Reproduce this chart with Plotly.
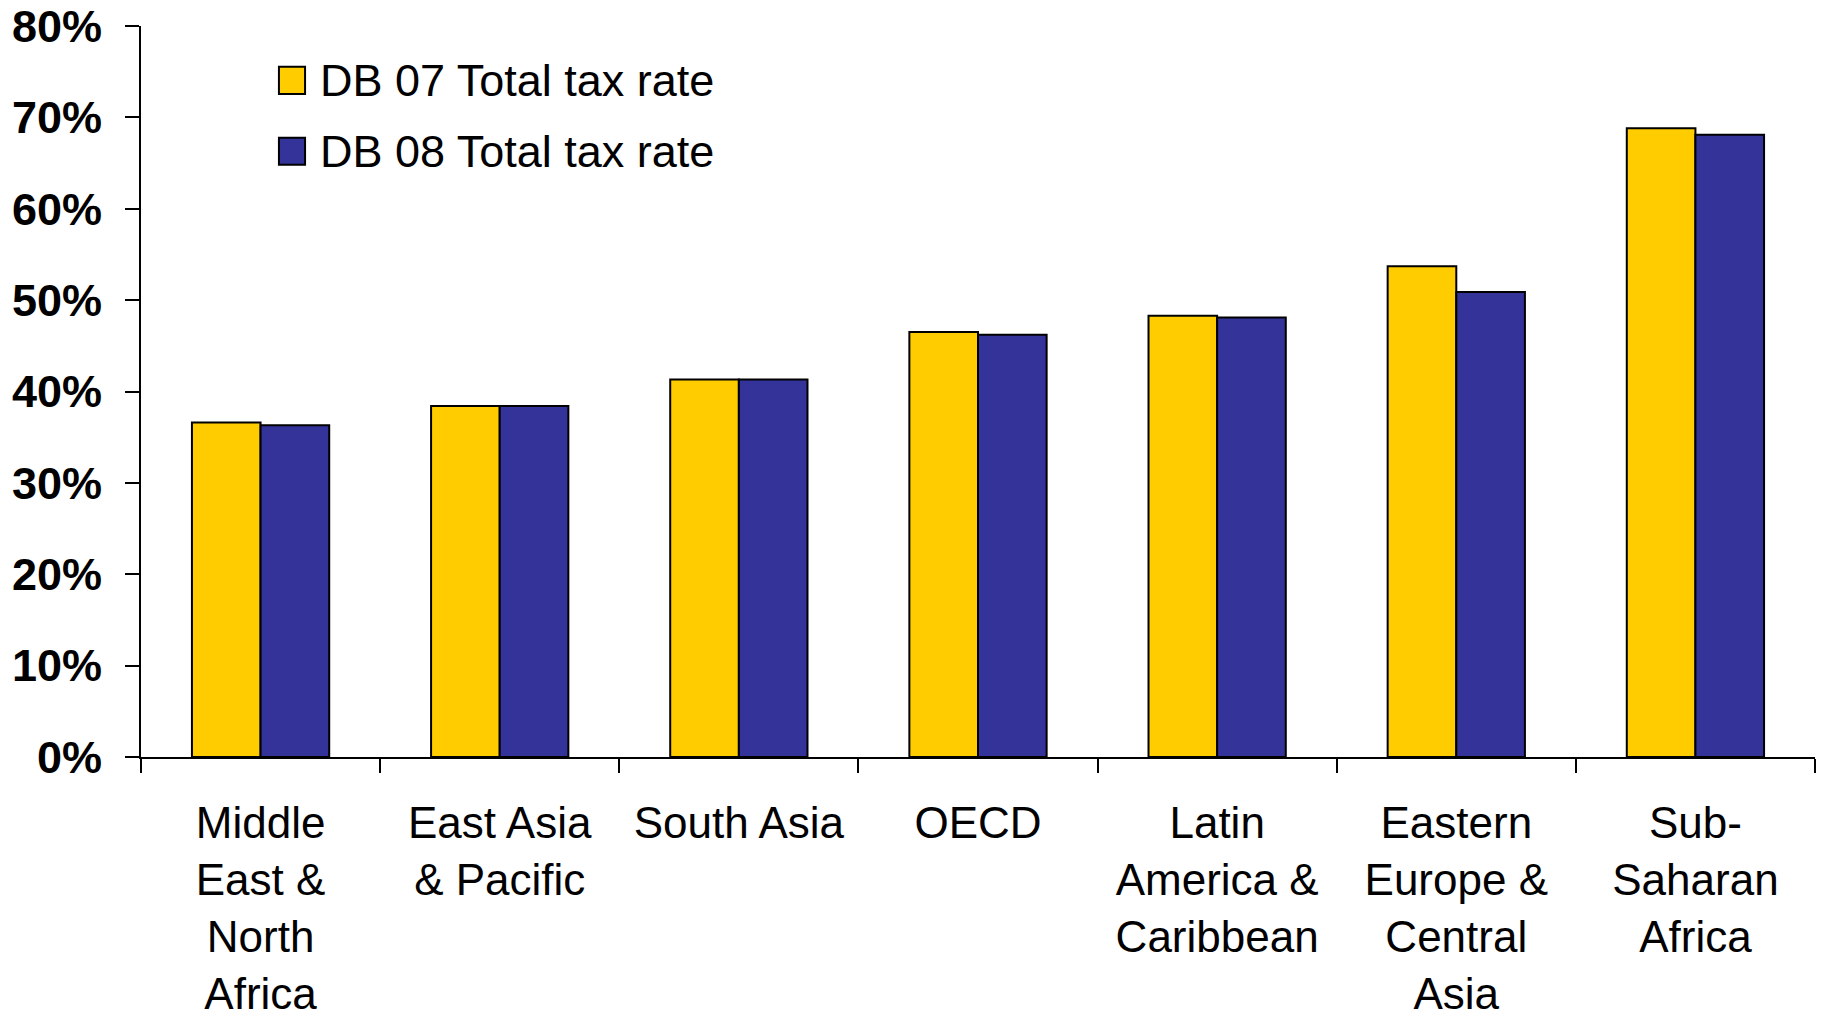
import plotly.graph_objects as go

regions = ['Middle<br>East &<br>North<br>Africa', 'East Asia<br>& Pacific', 'South Asia', 'OECD',
           'Latin<br>America &<br>Caribbean', 'Eastern<br>Europe &<br>Central<br>Asia', 'Sub-<br>Saharan<br>Africa']
db07 = [0.366, 0.384, 0.413, 0.465, 0.483, 0.537, 0.688]
db08 = [0.363, 0.384, 0.413, 0.462, 0.481, 0.509, 0.681]
series_names = ['DB 07 Total tax rate', 'DB 08 Total tax rate']
colors = ['#FFCC00', '#333399']
y_ticks = [0, 0.1, 0.2, 0.3, 0.4, 0.5, 0.6, 0.7, 0.8]

font = 'Liberation Sans, Arial, sans-serif'

fig = go.Figure()
for name, vals, col in zip(series_names, [db07, db08], colors):
    fig.add_trace(go.Bar(x=regions, y=vals, name=name, marker=dict(color=col, line=dict(color='black', width=2)),
                         showlegend=False))

# legend drawn by hand so the swatches can match the big squares of the original
legend_y = [0.9256, 0.8286]
for name, col, yc in zip(series_names, colors, legend_y):
    fig.add_shape(type='rect', xref='x domain', yref='y domain', x0=0.0824, x1=0.098, y0=yc - 0.0185, y1=yc + 0.0185,
                  fillcolor=col, line=dict(color='black', width=2))
    fig.add_annotation(text=name, xref='x domain', yref='y domain', x=0.1055, y=yc, xanchor='left', yanchor='middle',
                       showarrow=False, font=dict(family=font, size=45, color='black'))

# page body keeps its default 8px margin, so margins are offset by that
fig.update_layout(
    width=1824, height=1013,
    margin=dict(l=133, r=17, t=18, b=264),
    paper_bgcolor='white', plot_bgcolor='white',
    barmode='group', bargap=0.426, bargroupgap=0,
    font=dict(family=font, color='black'),
    xaxis=dict(showline=True, linecolor='black', linewidth=2, ticks='outside', tickson='boundaries',
               ticklen=14, tickwidth=2, tickcolor='black', tickfont=dict(size=44), ticklabelstandoff=26,
               showgrid=False, range=[-0.5, 6.5], automargin=False, ticklabeloverflow='allow'),
    yaxis=dict(showline=True, linecolor='black', linewidth=2, ticks='outside', ticklen=14, tickwidth=2,
               tickcolor='black', tickvals=y_ticks, tickformat='.0%', range=[0, 0.8], showgrid=False,
               zeroline=False, tickfont=dict(size=45, weight='bold'), ticklabelstandoff=14, automargin=False,
               ticklabeloverflow='allow'),
)

fig.write_html('out.html')
